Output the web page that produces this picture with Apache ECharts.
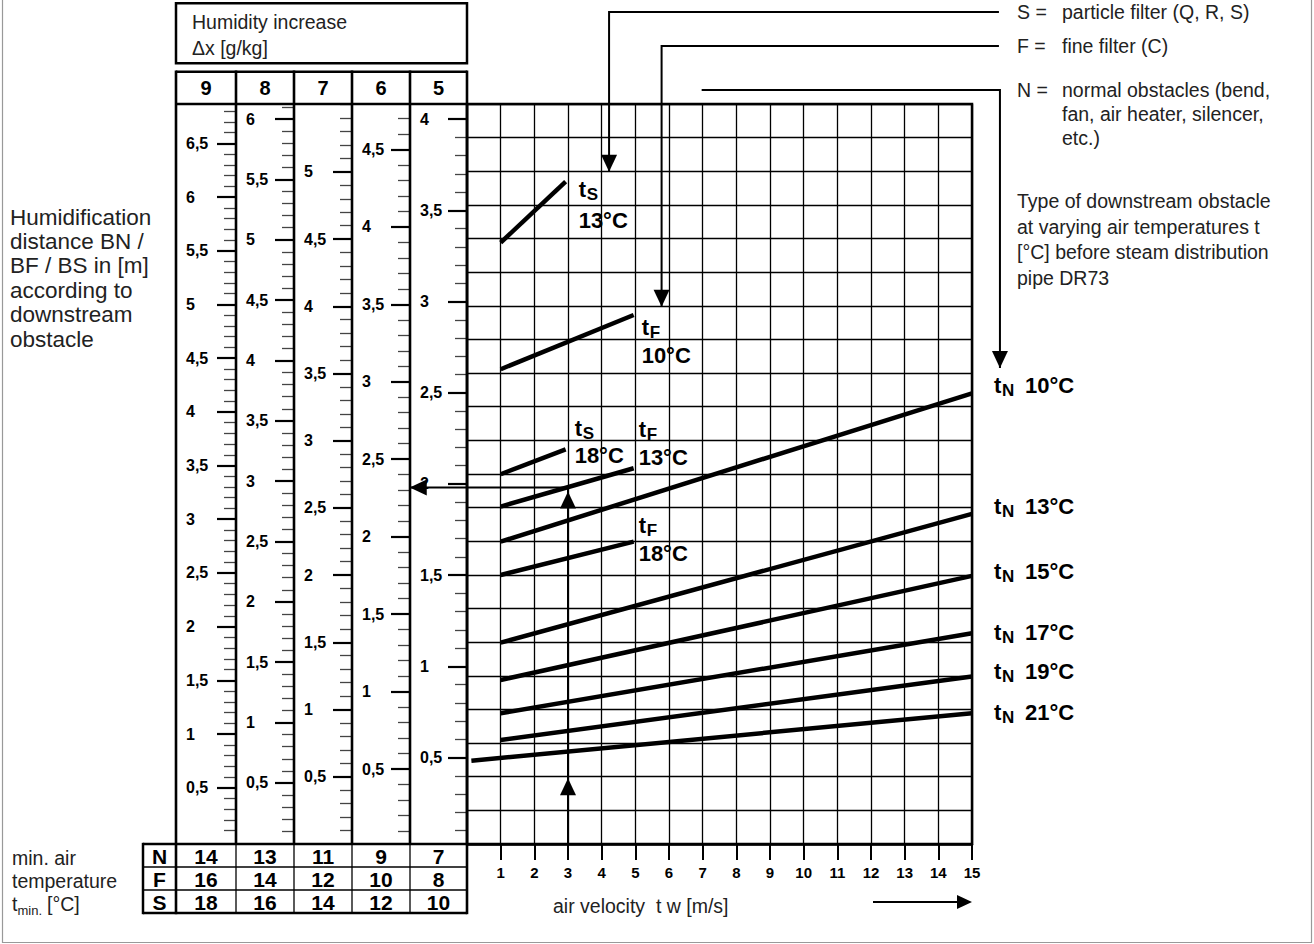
<!DOCTYPE html>
<html>
<head>
<meta charset="utf-8">
<script src="https://cdn.jsdelivr.net/npm/echarts@6/dist/echarts.min.js"></script>
<style>
  html, body { margin: 0; padding: 0; background: #fff; }
  #chart { width: 1314px; height: 944px; }
</style>
</head>
<body>
<div id="chart"></div>
<script>
// ===================== DATA =====================
// Humidity increase Δx [g/kg] – one distance scale per column
const humidityIncrease = [9, 8, 7, 6, 5];
// minimum air temperature t_min [°C] per column and obstacle type
const minTempN = [14, 13, 11, 9, 7];
const minTempF = [16, 14, 12, 10, 8];
const minTempS = [18, 16, 14, 12, 10];

// air velocity axis [m/s]
const velocityRange = [0, 15];

// distance scale (m) major tick labels per column
const scaleLabels9 = [0.5, 1, 1.5, 2, 2.5, 3, 3.5, 4, 4.5, 5, 5.5, 6, 6.5];
const scaleLabels8 = [0.5, 1, 1.5, 2, 2.5, 3, 3.5, 4, 4.5, 5, 5.5, 6];
const scaleLabels7 = [0.5, 1, 1.5, 2, 2.5, 3, 3.5, 4, 4.5, 5];
const scaleLabels6 = [0.5, 1, 1.5, 2, 2.5, 3, 3.5, 4, 4.5];
const scaleLabels5 = [0.5, 1, 1.5, 2, 2.5, 3, 3.5, 4];
const scaleMinorStep = 0.1;
// distance range (m) spanned by the full height of each scale column
const scaleRange9 = [-0.024, 6.866];
const scaleRange8 = [-0.006, 6.125];
const scaleRange7 = [-0.001, 5.505];
const scaleRange6 = [0.016, 4.793];
const scaleRange5 = [0.026, 4.083];

// curves: [air velocity m/s, humidification distance m (read on the Δx = 5 scale)]
const tN10 = [[1, 1.684], [15, 2.497]];
const tN13 = [[1, 1.130], [15, 1.836]];
const tN15 = [[1, 0.925], [15, 1.496]];
const tN17 = [[1, 0.743], [15, 1.181]];
const tN19 = [[1, 0.596], [15, 0.944]];
const tN21 = [[0.13, 0.483], [15, 0.743]];
const tF10 = [[1, 2.629], [4.95, 2.926]];
const tF13 = [[1, 1.876], [4.95, 2.086]];
const tF18 = [[1, 1.501], [4.95, 1.684]];
const tS13 = [[1, 3.323], [2.93, 3.657]];
const tS18 = [[1, 2.053], [2.93, 2.190]];

// reading example (v = 3 m/s, tF 13 °C -> 2 m)
const exampleReading = [[3, 0.026], [3, 1.98], [-1.70, 1.98]];
const exampleArrowUpLow = [3, 0.387];
const exampleArrowUpHigh = [3, 1.958];
// legend pointer arrows (main chart units)
const pointerS = [[15.80, 4.588], [4.22, 4.588], [4.22, 3.712]];
const pointerF = [[15.80, 4.401], [5.78, 4.401], [5.78, 2.972]];
const pointerN = [[6.97, 4.160], [15.83, 4.160], [15.83, 2.636]];

// texts
const leftTitle = ['Humidification', 'distance BN /', 'BF / BS in [m]', 'according to', 'downstream', 'obstacle'];
const legendKeys = ['S =', 'F =', 'N ='];
const legendTexts = [['particle filter (Q, R, S)'], ['fine filter (C)'], ['normal obstacles (bend,', 'fan, air heater, silencer,', 'etc.)']];
const typeNote = ['Type of downstream obstacle', 'at varying air temperatures t', '[°C] before steam distribution', 'pipe DR73'];

// ===================== LAYOUT / STYLE =====================
const FONT = '"Liberation Sans", Arial, Helvetica, sans-serif';
const TXT = '#222';
const plot = { left: 467, right: 972, top: 104, bottom: 844 };
const colEdges = [176, 236, 294, 352, 410, 467];
const headerTop = 71.7, boxTop = 3.3, boxBottom = 63.3;
const table = { left: 143, letterRight: 176, top: 844, row: 23 };

const curves = [
  { key: 'tN10', sub: 'N', temp: '10°C', data: tN10 },
  { key: 'tN13', sub: 'N', temp: '13°C', data: tN13 },
  { key: 'tN15', sub: 'N', temp: '15°C', data: tN15 },
  { key: 'tN17', sub: 'N', temp: '17°C', data: tN17 },
  { key: 'tN19', sub: 'N', temp: '19°C', data: tN19 },
  { key: 'tN21', sub: 'N', temp: '21°C', data: tN21 },
  { key: 'tF10', sub: 'F', temp: '10°C', data: tF10 },
  { key: 'tF13', sub: 'F', temp: '13°C', data: tF13 },
  { key: 'tF18', sub: 'F', temp: '18°C', data: tF18 },
  { key: 'tS13', sub: 'S', temp: '13°C', data: tS13 },
  { key: 'tS18', sub: 'S', temp: '18°C', data: tS18 }
];
// label placement (pixels relative to the curve end)
const labelLayout = {
  tN10: { dx: 22, dy: -8 }, tN13: { dx: 22, dy: -7 }, tN15: { dx: 22, dy: -4 },
  tN17: { dx: 22, dy: -1 }, tN19: { dx: 22, dy: -5 }, tN21: { dx: 22, dy: -1 },
  tS13: { dx: 13, dy: 8, dy2: 39 }, tF10: { dx: 8, dy: 12, dy2: 40 },
  tS18: { dx: 9, dy: -21, dy2: 6 }, tF13: { dx: 5, dy: -39, dy2: -11 },
  tF18: { dx: 5, dy: -16, dy2: 12 }
};

const scales = [
  { labels: scaleLabels9, range: scaleRange9 },
  { labels: scaleLabels8, range: scaleRange8 },
  { labels: scaleLabels7, range: scaleRange7 },
  { labels: scaleLabels6, range: scaleRange6 },
  { labels: scaleLabels5, range: scaleRange5 }
];

function minorTicks(range, majors) {
  const out = [];
  for (let k = Math.ceil(range[0] / scaleMinorStep); k * scaleMinorStep <= range[1] + 1e-9; k++) {
    const v = Math.round(k * scaleMinorStep * 10) / 10;
    if (v <= 0) continue;
    if (majors.some(m => Math.abs(m - v) < 1e-6)) continue;
    out.push(v);
  }
  return out;
}
const comma = v => String(v).replace('.', ',');

// ===================== OPTION =====================
const grids = [{
  left: plot.left, top: plot.top, width: plot.right - plot.left, height: plot.bottom - plot.top,
  show: true, borderColor: '#000', borderWidth: 2.5, backgroundColor: 'transparent', z: 1
}];
const xAxes = [{
  gridIndex: 0, type: 'value', min: velocityRange[0], max: velocityRange[1], interval: 1,
  axisLine: { show: true, onZero: false, lineStyle: { color: '#000', width: 2.5 } },
  axisTick: { show: true, length: 16, lineStyle: { color: '#000', width: 2 } },
  axisLabel: { formatter: v => (v === 0 ? '' : String(v)), fontFamily: FONT, fontWeight: 'bold', fontSize: 15, color: '#000', margin: 21 },
  splitLine: { show: true, lineStyle: { color: '#000', width: 1.3 } }
}];
const yAxes = [
  { gridIndex: 0, type: 'value', min: 0, max: 22, interval: 1, position: 'left',
    axisLine: { show: false, onZero: false }, axisTick: { show: false }, axisLabel: { show: false },
    splitLine: { show: true, lineStyle: { color: '#000', width: 1.3 } } },
  { gridIndex: 0, type: 'value', min: scaleRange5[0], max: scaleRange5[1], show: false, position: 'right',
    axisLine: { onZero: false } }
];

scales.forEach((s, i) => {
  const gi = i + 1;
  const w = colEdges[i + 1] - colEdges[i];
  grids.push({ left: colEdges[i], top: plot.top, width: w, height: plot.bottom - plot.top, show: false });
  xAxes.push({ gridIndex: gi, type: 'value', show: false, min: 1, max: 2, axisLine: { onZero: false } });
  yAxes.push({
    gridIndex: gi, type: 'value', position: 'right', min: s.range[0], max: s.range[1],
    axisLine: { show: false, onZero: false },
    axisTick: { show: true, inside: true, length: 12, customValues: minorTicks(s.range, s.labels), lineStyle: { color: '#444', width: 1.3 } },
    axisLabel: { show: false }, splitLine: { show: false }
  });
  yAxes.push({
    gridIndex: gi, type: 'value', position: 'right', min: s.range[0], max: s.range[1],
    axisLine: { show: false, onZero: false },
    axisTick: { show: true, inside: true, length: 19, customValues: s.labels, lineStyle: { color: '#000', width: 2.2 } },
    axisLabel: { show: true, inside: true, customValues: s.labels, formatter: comma, align: 'left', margin: w - 10,
      fontFamily: FONT, fontWeight: 'bold', fontSize: 16, color: '#000' },
    splitLine: { show: false }
  });
});

function txt(text, x, y, size, opts) {
  opts = opts || {};
  return {
    type: 'text', x: x, y: y, z: 50, silent: true,
    style: {
      text: text, fill: opts.fill || '#000',
      font: (opts.bold ? 'bold ' : '') + size + 'px ' + FONT,
      align: opts.align || 'left', verticalAlign: 'middle',
      textAlign: opts.align || 'left', textVerticalAlign: 'middle'
    }
  };
}
function seg(x1, y1, x2, y2, w, color) {
  return { type: 'line', z: 40, silent: true, shape: { x1: x1, y1: y1, x2: x2, y2: y2 }, style: { stroke: color || '#000', lineWidth: w } };
}
function headPoly(tip, dir, L, W) {
  const bx = tip[0] - dir[0] * L, by = tip[1] - dir[1] * L;
  const nx = -dir[1], ny = dir[0];
  return { type: 'polygon', shape: { points: [tip, [bx + nx * W, by + ny * W], [bx - nx * W, by - ny * W]] }, style: { fill: '#000' } };
}

// curve labels via custom series
function labelRender(params, api) {
  const c = curves[params.dataIndex];
  const end = c.data[c.data.length - 1];
  const p = api.coord(end);
  const L = labelLayout[c.key];
  const x = p[0] + L.dx, y = p[1] + L.dy;
  const big = 'bold 22px ' + FONT, small = 'bold 17px ' + FONT;
  const children = [
    { type: 'text', x: x, y: y, style: { text: 't', font: big, fill: '#000', align: 'left', verticalAlign: 'middle' } },
    { type: 'text', x: x + 8, y: y + 5, style: { text: c.sub, font: small, fill: '#000', align: 'left', verticalAlign: 'middle' } }
  ];
  if (L.dy2 !== undefined) {
    children.push({ type: 'text', x: x, y: p[1] + L.dy2, style: { text: c.temp, font: big, fill: '#000', align: 'left', verticalAlign: 'middle' } });
  } else {
    children.push({ type: 'text', x: x + 31, y: y, style: { text: c.temp, font: big, fill: '#000', align: 'left', verticalAlign: 'middle' } });
  }
  return { type: 'group', children: children };
}

const DIR = { up: [0, -1], down: [0, 1], left: [-1, 0], right: [1, 0] };
const annotations = [
  { path: pointerS, heads: [{ at: pointerS[pointerS.length - 1], dir: 'down' }] },
  { path: pointerF, heads: [{ at: pointerF[pointerF.length - 1], dir: 'down' }] },
  { path: pointerN, heads: [{ at: pointerN[pointerN.length - 1], dir: 'down' }] },
  { path: exampleReading, heads: [
    { at: exampleArrowUpLow, dir: 'up' }, { at: exampleArrowUpHigh, dir: 'up' },
    { at: exampleReading[exampleReading.length - 1], dir: 'left' } ] }
];
function annotRender(params, api) {
  const a = annotations[params.dataIndex];
  const pts = a.path.map(p => api.coord(p));
  const children = [{ type: 'polyline', shape: { points: pts }, style: { stroke: '#000', lineWidth: 2, fill: null } }];
  a.heads.forEach(h => children.push(headPoly(api.coord(h.at), DIR[h.dir], 17, 8)));
  return { type: 'group', children: children };
}

const series = curves.map(c => ({
  type: 'line', name: c.key, xAxisIndex: 0, yAxisIndex: 1, data: c.data,
  showSymbol: false, symbol: 'none', silent: true, z: 5,
  lineStyle: { color: '#000', width: 4.5, cap: 'butt' }
}));
series.push({
  type: 'custom', name: 'labels', xAxisIndex: 0, yAxisIndex: 1, silent: true, z: 6, clip: false,
  data: curves.map(c => c.data[c.data.length - 1]), renderItem: labelRender
});
series.push({
  type: 'custom', name: 'arrows', xAxisIndex: 0, yAxisIndex: 1, silent: true, z: 6, clip: false,
  data: annotations.map(a => a.path[0]), renderItem: annotRender
});

// ---------- static frame (boxes, table, texts) ----------
const g = [];
// outer frame
g.push({ type: 'rect', z: 0, silent: true, shape: { x: 2.5, y: -2, width: 1309, height: 944.5 }, style: { fill: null, stroke: '#999', lineWidth: 1.2 } });
// humidity box
g.push({ type: 'rect', z: 40, silent: true, shape: { x: colEdges[0], y: boxTop, width: plot.left - colEdges[0], height: boxBottom - boxTop }, style: { fill: null, stroke: '#000', lineWidth: 2.5 } });
g.push(txt('Humidity increase', 192, 22, 19.5, { fill: TXT }));
g.push(txt('\u0394x [g/kg]', 192, 48, 19.5, { fill: TXT }));
// header row
g.push(seg(colEdges[0], headerTop, plot.left, headerTop, 2.5));
g.push(seg(colEdges[0], plot.top, plot.left, plot.top, 2.5));
humidityIncrease.forEach((h, i) => {
  g.push(txt(String(h), (colEdges[i] + colEdges[i + 1]) / 2, (headerTop + plot.top) / 2, 20, { bold: true, align: 'center' }));
});
// column dividers (header + scales)
colEdges.forEach(x => g.push(seg(x, headerTop - 1.2, x, plot.bottom, 2.6)));
// table
const tRows = [minTempN, minTempF, minTempS];
const tLetters = ['N', 'F', 'S'];
const tBottom = table.top + 3 * table.row;
g.push(seg(table.left, table.top, plot.left, table.top, 2.5));
g.push(seg(table.left, tBottom, plot.left, tBottom, 2.5));
for (let r = 1; r < 3; r++) g.push(seg(table.left, table.top + r * table.row, plot.left, table.top + r * table.row, 1.3));
g.push(seg(table.left, table.top - 1.2, table.left, tBottom + 1.2, 2.5));
g.push(seg(table.letterRight, table.top, table.letterRight, tBottom + 1.2, 2.6));
g.push(seg(plot.left, table.top, plot.left, tBottom + 1.2, 2.6));
for (let i = 1; i < colEdges.length - 1; i++) g.push(seg(colEdges[i], table.top, colEdges[i], tBottom, 1.3));
tRows.forEach((row, r) => {
  const cy = table.top + (r + 0.5) * table.row + 0.5;
  g.push(txt(tLetters[r], (table.left + table.letterRight) / 2, cy, 21, { bold: true, align: 'center' }));
  row.forEach((v, i) => g.push(txt(String(v), (colEdges[i] + colEdges[i + 1]) / 2, cy, 21, { bold: true, align: 'center' })));
});
// bottom-left caption
g.push(txt('min. air', 12, 858, 19.5, { fill: TXT }));
g.push(txt('temperature', 12, 881, 19.5, { fill: TXT }));
g.push(txt('t', 12, 904, 19.5, { fill: TXT }));
g.push(txt('min.', 17.5, 910, 13, { fill: TXT }));
g.push(txt('[°C]', 47, 904, 19.5, { fill: TXT }));
// left title
leftTitle.forEach((s, i) => g.push(txt(s, 10, 217 + i * 24.4, 22.5, { fill: TXT })));
// x axis caption + arrow
g.push(txt('air velocity  t w [m/s]', 553, 906, 19.5, { fill: TXT }));
g.push(seg(873, 902, 960, 902, 2));
g.push({ type: 'polygon', z: 40, silent: true, shape: { points: [[972, 902], [957, 895], [957, 909]] }, style: { fill: '#000' } });
// legend on the right
const legendY = [12, 46, 90];
legendKeys.forEach((k, i) => {
  g.push(txt(k, 1017, legendY[i], 19.5, { fill: TXT }));
  legendTexts[i].forEach((s, j) => g.push(txt(s, 1062, legendY[i] + j * 24, 19.5, { fill: TXT })));
});
typeNote.forEach((s, i) => g.push(txt(s, 1017, 201 + i * 25.5, 19.5, { fill: TXT })));

const option = {
  animation: false,
  backgroundColor: '#fff',
  grid: grids,
  xAxis: xAxes,
  yAxis: yAxes,
  series: series,
  graphic: { elements: g }
};

const chart = echarts.init(document.getElementById('chart'), null, { renderer: 'svg', width: 1314, height: 944 });
chart.setOption(option);
</script>
</body>
</html>
